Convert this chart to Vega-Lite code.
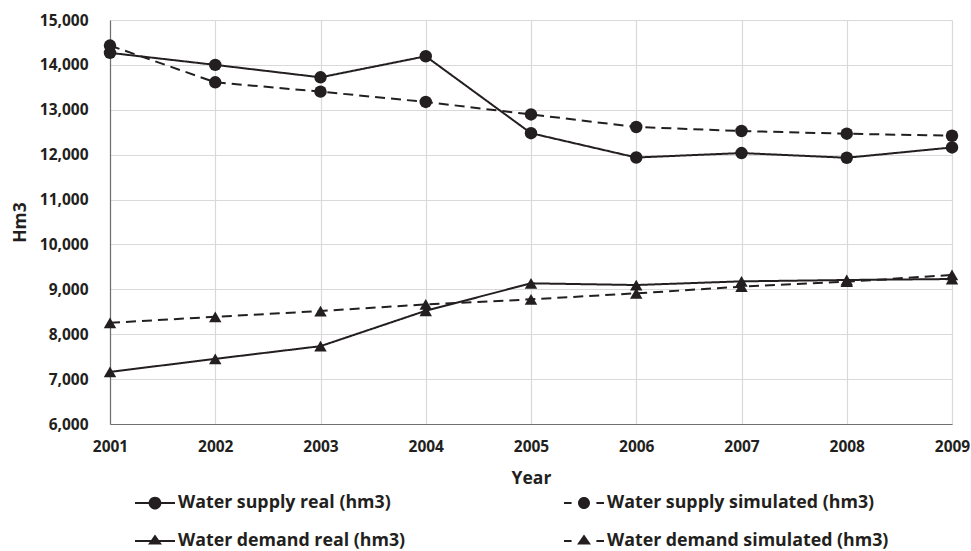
{
  "$schema": "https://vega.github.io/schema/vega-lite/v6.json",
  "width": 842,
  "height": 404,
  "autosize": "none",
  "padding": {"left": 110, "top": 20, "right": 19, "bottom": 127},
  "background": "white",
  "config": {
    "font": "Open Sans",
    "view": {"stroke": null},
    "axis": {"gridColor": "#d9d9d9", "gridWidth": 1.2, "ticks": false, "domainColor": "#6f6f6f", "domainWidth": 1.2, "labelFont": "Open Sans", "labelFontWeight": "bold", "labelFontSize": 15.5, "labelColor": "#231f20", "titleFont": "Open Sans", "titleFontWeight": "bold", "titleFontSize": 17.5, "titleColor": "#231f20"}
  },
  "data": {"values": [
    {"year": 2001, "series": "Water supply real (hm3)", "kind": "real", "value": 14268},
    {"year": 2002, "series": "Water supply real (hm3)", "kind": "real", "value": 14000},
    {"year": 2003, "series": "Water supply real (hm3)", "kind": "real", "value": 13723},
    {"year": 2004, "series": "Water supply real (hm3)", "kind": "real", "value": 14192},
    {"year": 2005, "series": "Water supply real (hm3)", "kind": "real", "value": 12478},
    {"year": 2006, "series": "Water supply real (hm3)", "kind": "real", "value": 11937},
    {"year": 2007, "series": "Water supply real (hm3)", "kind": "real", "value": 12036},
    {"year": 2008, "series": "Water supply real (hm3)", "kind": "real", "value": 11931},
    {"year": 2009, "series": "Water supply real (hm3)", "kind": "real", "value": 12161},
    {"year": 2001, "series": "Water supply simulated (hm3)", "kind": "simulated", "value": 14431},
    {"year": 2002, "series": "Water supply simulated (hm3)", "kind": "simulated", "value": 13612},
    {"year": 2003, "series": "Water supply simulated (hm3)", "kind": "simulated", "value": 13404},
    {"year": 2004, "series": "Water supply simulated (hm3)", "kind": "simulated", "value": 13174},
    {"year": 2005, "series": "Water supply simulated (hm3)", "kind": "simulated", "value": 12897},
    {"year": 2006, "series": "Water supply simulated (hm3)", "kind": "simulated", "value": 12616},
    {"year": 2007, "series": "Water supply simulated (hm3)", "kind": "simulated", "value": 12527},
    {"year": 2008, "series": "Water supply simulated (hm3)", "kind": "simulated", "value": 12467},
    {"year": 2009, "series": "Water supply simulated (hm3)", "kind": "simulated", "value": 12422},
    {"year": 2001, "series": "Water demand real (hm3)", "kind": "real", "value": 7161},
    {"year": 2002, "series": "Water demand real (hm3)", "kind": "real", "value": 7451},
    {"year": 2003, "series": "Water demand real (hm3)", "kind": "real", "value": 7734},
    {"year": 2004, "series": "Water demand real (hm3)", "kind": "real", "value": 8523},
    {"year": 2005, "series": "Water demand real (hm3)", "kind": "real", "value": 9134},
    {"year": 2006, "series": "Water demand real (hm3)", "kind": "real", "value": 9096},
    {"year": 2007, "series": "Water demand real (hm3)", "kind": "real", "value": 9178},
    {"year": 2008, "series": "Water demand real (hm3)", "kind": "real", "value": 9208},
    {"year": 2009, "series": "Water demand real (hm3)", "kind": "real", "value": 9230},
    {"year": 2001, "series": "Water demand simulated (hm3)", "kind": "simulated", "value": 8254},
    {"year": 2002, "series": "Water demand simulated (hm3)", "kind": "simulated", "value": 8388},
    {"year": 2003, "series": "Water demand simulated (hm3)", "kind": "simulated", "value": 8516},
    {"year": 2004, "series": "Water demand simulated (hm3)", "kind": "simulated", "value": 8665},
    {"year": 2005, "series": "Water demand simulated (hm3)", "kind": "simulated", "value": 8777},
    {"year": 2006, "series": "Water demand simulated (hm3)", "kind": "simulated", "value": 8911},
    {"year": 2007, "series": "Water demand simulated (hm3)", "kind": "simulated", "value": 9059},
    {"year": 2008, "series": "Water demand simulated (hm3)", "kind": "simulated", "value": 9170},
    {"year": 2009, "series": "Water demand simulated (hm3)", "kind": "simulated", "value": 9320}
  ]},
  "encoding": {
    "x": {"field": "year", "type": "ordinal", "scale": {"type": "point", "padding": 0}, "title": "Year",
      "axis": {"labelAngle": 0, "grid": true, "labelPadding": 15, "titlePadding": 15}},
    "y": {"field": "value", "type": "quantitative", "scale": {"domain": [6000, 15000], "nice": false}, "title": "Hm3",
      "axis": {"values": [6000, 7000, 8000, 9000, 10000, 11000, 12000, 13000, 14000, 15000], "format": ",d", "labelPadding": 22, "titlePadding": 10}}
  },
  "resolve": {"scale": {"shape": "independent"}, "legend": {"shape": "independent"}},
  "layer": [
    {
      "mark": {"type": "line", "color": "#231f20", "strokeWidth": 2},
      "encoding": {
        "detail": {"field": "series"},
        "strokeDash": {"field": "kind", "type": "nominal", "scale": {"domain": ["real", "simulated"], "range": [[1, 0], [10, 6]]}, "legend": null}
      }
    },
    {
      "mark": {"type": "point", "filled": true, "color": "#231f20", "opacity": 1, "size": 155},
      "encoding": {
        "shape": {"field": "series", "type": "nominal",
          "scale": {"domain": ["Water supply real (hm3)", "Water supply simulated (hm3)", "Water demand real (hm3)", "Water demand simulated (hm3)"], "range": ["circle", "circle", "triangle-up", "triangle-up"]},
          "legend": null}
      }
    },
    {
      "transform": [{"filter": "false"}],
      "mark": {"type": "point", "filled": true, "color": "#231f20", "opacity": 1},
      "encoding": {
        "shape": {"field": "series", "type": "nominal",
          "scale": {"domain": ["Water supply real (hm3)", "Water supply simulated (hm3)", "Water demand real (hm3)", "Water demand simulated (hm3)"],
            "range": [
              "M-1,-0.05H1V0.05H-1ZM-0.32,0A0.32,0.32 0 1,1 0.32,0A0.32,0.32 0 1,1 -0.32,0Z",
              "M-1,-0.05H-0.62V0.05H-1ZM0.62,-0.05H1V0.05H0.62ZM-0.3,0A0.3,0.3 0 1,1 0.3,0A0.3,0.3 0 1,1 -0.3,0Z",
              "M-1,-0.05H1V0.05H-1ZM0,-0.33L0.35,0.17L-0.35,0.17Z",
              "M-1,-0.05H-0.62V0.05H-1ZM0.62,-0.05H1V0.05H0.62ZM0,-0.33L0.35,0.17L-0.35,0.17Z"
            ]},
          "legend": {
            "title": null, "orient": "none", "legendX": 25, "legendY": 463, "direction": "horizontal", "columns": 2, "columnPadding": 158, "rowPadding": 9,
            "symbolSize": 1600, "symbolStrokeWidth": 0, "symbolFillColor": "#231f20", "symbolOpacity": 1,
            "labelOffset": 3, "labelFont": "Open Sans", "labelFontWeight": "bold", "labelFontSize": 17.8, "labelColor": "#231f20", "labelLimit": 400,
            "encode": {"symbols": {"fill": {"value": "#231f20"}, "opacity": {"value": 1}}}
          }
        }
      }
    }
  ]
}
